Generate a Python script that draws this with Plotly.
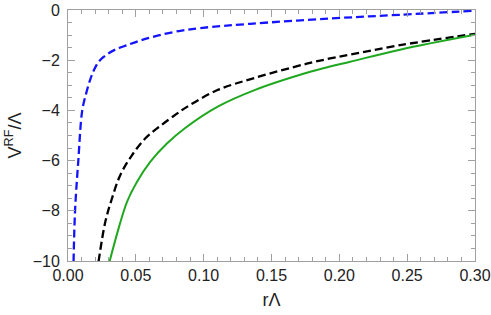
import plotly.graph_objects as go

# Values
r_blue = [0.0041, 0.0052, 0.0076, 0.0105, 0.0135, 0.0165, 0.0195, 0.0225, 0.0260, 0.0300,
          0.0360, 0.0435, 0.0530, 0.0653, 0.0796, 0.0976, 0.1343, 0.1932, 0.2448, 0.3000]
v_blue = [-10.03, -8.0, -6.0, -4.0, -3.3, -2.75, -2.35, -2.07, -1.88, -1.72,
          -1.55, -1.40, -1.22, -1.03, -0.86, -0.72, -0.55, -0.34, -0.19, -0.03]

r_black = [0.0225, 0.0275, 0.0324, 0.0385, 0.0471, 0.0569, 0.0680, 0.0803, 0.0877,
           0.1098, 0.1380, 0.1760, 0.1932, 0.2080, 0.2448, 0.3000]
v_black = [-10.03, -8.44, -7.51, -6.58, -5.79, -5.12, -4.62, -4.13, -3.86,
           -3.20, -2.70, -2.14, -1.93, -1.78, -1.40, -0.95]

r_green = [0.0306, 0.0373, 0.0435, 0.0508, 0.0606, 0.0729, 0.0864, 0.1107, 0.1380,
           0.1760, 0.1932, 0.2080, 0.2448, 0.3000]
v_green = [-10.03, -8.70, -7.64, -6.85, -6.05, -5.32, -4.70, -3.84, -3.18,
           -2.50, -2.25, -2.06, -1.58, -0.99]

x_ticks = [0.00, 0.05, 0.10, 0.15, 0.20, 0.25, 0.30]
y_ticks = [-10, -8, -6, -4, -2, 0]

FONT = "Liberation Sans, Arial, sans-serif"

fig = go.Figure()
fig.add_trace(go.Scatter(x=r_blue, y=v_blue, mode="lines",
                         line=dict(color="#1414ff", width=2.3, dash="8px,4px", shape="spline", smoothing=1.0)))
fig.add_trace(go.Scatter(x=r_black, y=v_black, mode="lines",
                         line=dict(color="black", width=2.3, dash="8px,4px", shape="spline", smoothing=1.0)))
fig.add_trace(go.Scatter(x=r_green, y=v_green, mode="lines",
                         line=dict(color="#1fa81f", width=2.0, shape="spline", smoothing=1.0)))

axis_common = dict(
    showline=True, linecolor="#a0a0a0", linewidth=1, mirror="allticks",
    ticks="inside", tickcolor="#a0a0a0", ticklen=7, tickwidth=1,
    showgrid=False, zeroline=False, automargin=False,
    tickfont=dict(family=FONT, size=16, color="#222"),
)

fig.update_xaxes(range=[0, 0.3], tickvals=x_ticks, tickformat=".2f",
                 title=dict(text="rΛ", font=dict(family=FONT, size=18, color="#222"), standoff=10),
                 minor=dict(dtick=0.01, ticks="inside", ticklen=4, tickcolor="#a0a0a0", showgrid=False),
                 **axis_common)
fig.update_yaxes(range=[-10, 0], tickvals=y_ticks,
                 title=dict(text="V<sup>RF</sup>/Λ", font=dict(family=FONT, size=18, color="#222"), standoff=6),
                 minor=dict(dtick=0.5, ticks="inside", ticklen=4, tickcolor="#a0a0a0", showgrid=False),
                 ticklabelstandoff=4,
                 **axis_common)

fig.update_layout(width=491, height=315, showlegend=False,
                  margin=dict(l=68, r=16, t=10, b=54),
                  plot_bgcolor="white", paper_bgcolor="white")

# remove the default page margin so the figure sits at the window's top-left corner
fig.write_html("out.html",
               config={"displayModeBar": False},
               post_script="document.body.style.margin='0';document.body.style.overflow='hidden';")
